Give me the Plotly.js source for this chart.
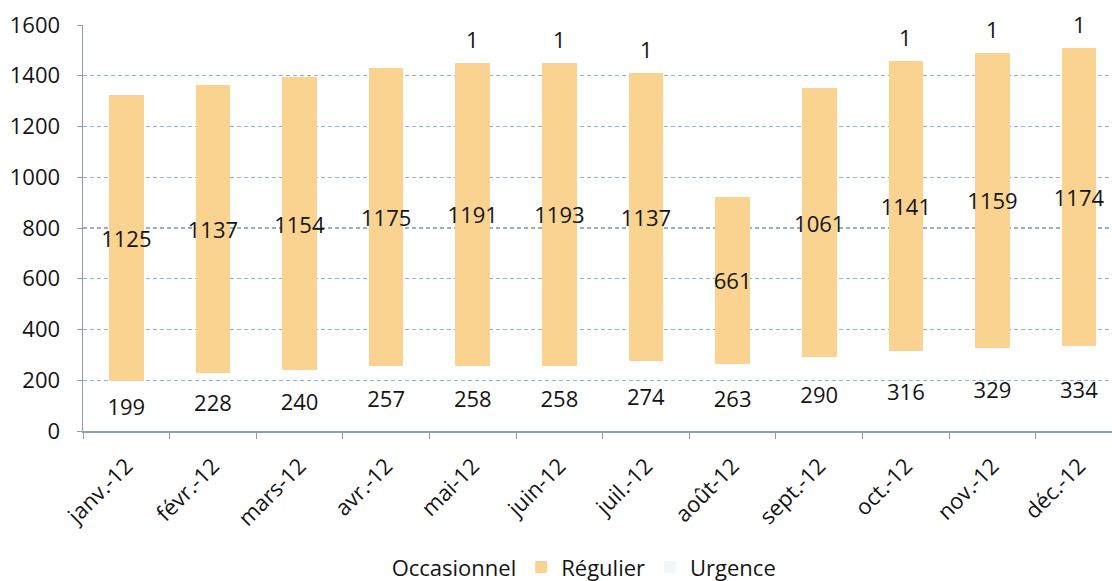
<!DOCTYPE html>
<html><head><meta charset="utf-8">
<script src="https://cdn.plot.ly/plotly-3.0.1.min.js"></script>
<style>html,body{margin:0;padding:0;background:#fff}#chart{width:1112px;height:581px}</style>
</head><body><div id="chart"></div>
<script>
const months = ["janv.-12","févr.-12","mars-12","avr.-12","mai-12","juin-12","juil.-12","août-12","sept.-12","oct.-12","nov.-12","déc.-12"];
const occasionnel = [199,228,240,257,258,258,274,263,290,316,329,334];
const regulier = [1125,1137,1154,1175,1191,1193,1137,661,1061,1141,1159,1174];
const urgence = [null,null,null,null,1,1,1,null,null,1,1,1];
const yTicks = [0,200,400,600,800,1000,1200,1400,1600];

const FONT = "Open Sans, Lato, sans-serif";
const txtFont = {family: FONT, size: 22, color: "#141414"};

const traces = [
  {type:"bar", name:"Occasionnel", x:months, y:occasionnel, text:occasionnel.map(String),
   textposition:"inside", insidetextanchor:"middle", textangle:0, constraintext:"none",
   textfont:txtFont, marker:{color:"rgba(255,255,255,0)"}, width:0.4, hoverinfo:"none"},
  {type:"bar", name:"Régulier", x:months, y:regulier, text:regulier.map(String),
   textposition:"inside", insidetextanchor:"middle", textangle:0, constraintext:"none",
   textfont:txtFont, marker:{color:"#f9d38f"}, width:0.4, hoverinfo:"none"},
  {type:"bar", name:"Urgence", x:months, y:urgence, textposition:"none",
   marker:{color:"#f1f7fb"}, width:0.4, hoverinfo:"none"}
];

const annotations = [];
months.forEach((m,i)=>{
  if (urgence[i] !== null) {
    annotations.push({x:m, y:occasionnel[i]+regulier[i]+urgence[i], xref:"x", yref:"y",
      text:String(urgence[i]), showarrow:false, yshift:24, font:txtFont});
  }
});

const layout = {
  width:1112, height:581,
  margin:{l:83, r:0, t:25, b:150, autoexpand:false},
  paper_bgcolor:"#fff", plot_bgcolor:"#fff",
  barmode:"stack",
  showlegend:true,
  legend:{orientation:"h", x:0.47, xanchor:"center", yref:"container", y:0.06, yanchor:"top",
    font:{family:FONT, size:22, color:"#141414"}, traceorder:"normal"},
  xaxis:{type:"category", automargin:false, range:[-0.5, 11.38], showline:true, linecolor:"#8aa0b0", linewidth:1.5,
    ticks:"outside", tickson:"boundaries", ticklen:6, tickcolor:"#8aa0b0", ticklabelstandoff:12,
    tickangle:-45, tickfont:{family:FONT, size:22, color:"#141414"}, showgrid:false, fixedrange:true},
  yaxis:{range:[0,1600], automargin:false, tickvals:yTicks, ticktext:yTicks.map(String), showline:true, linecolor:"#8aa0b0", linewidth:1.5,
    ticks:"outside", ticklen:5, tickcolor:"#8aa0b0", ticklabelstandoff:12,
    tickfont:{family:FONT, size:22, color:"#141414"},
    showgrid:true, gridcolor:"#8db4c9", griddash:"4px,3px", gridwidth:1.3, zeroline:false, fixedrange:true},
  annotations:annotations,
  font:{family:FONT}
};
Plotly.newPlot("chart", traces, layout, {displayModeBar:false, staticPlot:true});
</script></body></html>
